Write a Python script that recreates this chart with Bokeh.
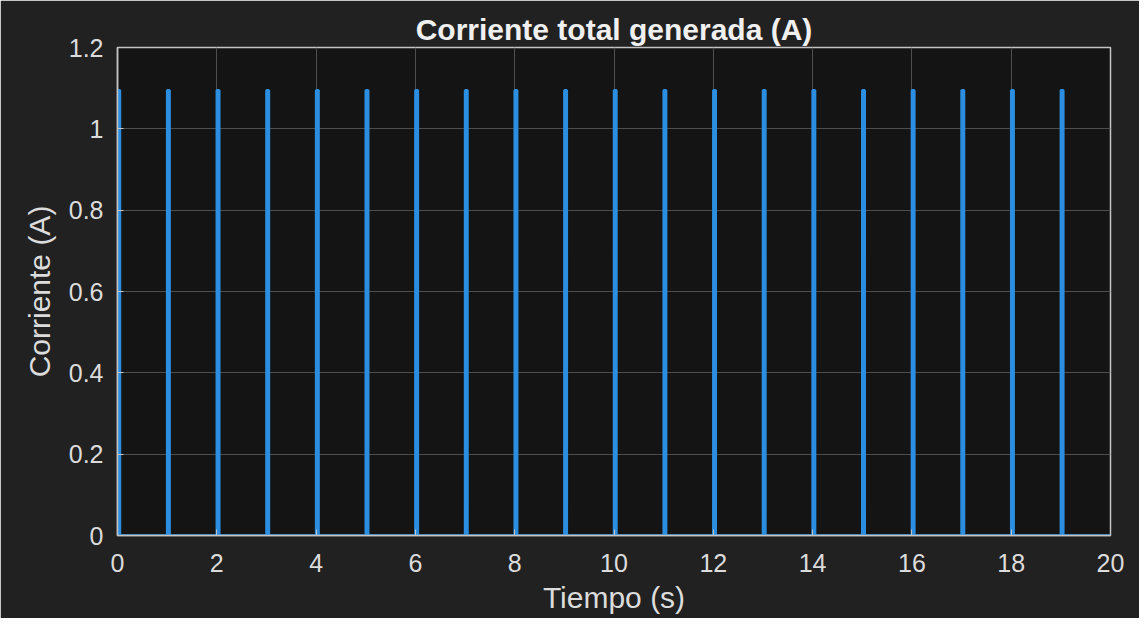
from bokeh.plotting import figure
from bokeh.models import Range1d, FixedTicker, CustomJSTickFormatter, ColumnDataSource
from bokeh.embed import file_html
from bokeh.resources import INLINE

# ---- data ----
pulse_times = [0, 1, 2, 3, 4, 5, 6, 7, 8, 9, 10, 11, 12, 13, 14, 15, 16, 17, 18, 19]
pulse_amps = [1.095, 1.095, 1.095, 1.095, 1.095, 1.095, 1.095, 1.095, 1.095, 1.095,
              1.095, 1.095, 1.095, 1.095, 1.095, 1.095, 1.095, 1.095, 1.095, 1.095]
pulse_width_s = 0.05
t_end = 20
x_ticks = [0, 2, 4, 6, 8, 10, 12, 14, 16, 18, 20]
y_ticks = [0, 0.2, 0.4, 0.6, 0.8, 1.0, 1.2]

xs, ys = [], []
for t, a in zip(pulse_times, pulse_amps):
    xs += [t, t, t + pulse_width_s, t + pulse_width_s]
    ys += [0, a, a, 0]
xs.append(t_end)
ys.append(0)

BG = "#212121"
PLOT_BG = "#141414"
AX = "#c4c4c4"
TXT = "#dcdcdc"
FONT = "Liberation Sans"

p = figure(width=1139, height=618, output_backend="svg", toolbar_location=None,
           x_range=Range1d(0, 20), y_range=Range1d(0, 1.2),
           min_border_left=117, min_border_right=29, min_border_top=47, min_border_bottom=83,
           background_fill_color=PLOT_BG, border_fill_color=BG)

p.title.text = "Corriente total generada (A)"
p.title.align = "center"
p.title.text_color = "#f0f0f0"
p.title.text_font = FONT
p.title.text_font_size = "30px"
p.title.text_font_style = "bold"
p.title.offset = 0
p.title.standoff = 4

src = ColumnDataSource(dict(x=xs, y=ys))
p.line("x", "y", source=src, line_color="#2b8ee0", line_width=2.5)

fmt = CustomJSTickFormatter(code="return tick.toFixed(1).replace(/\\.0$/, '');")

for ax in p.xaxis:
    ax.ticker = FixedTicker(ticks=x_ticks)
    ax.axis_label = "Tiempo (s)"
for ax in p.yaxis:
    ax.ticker = FixedTicker(ticks=y_ticks)
    ax.axis_label = "Corriente (A)"
    ax.formatter = fmt

for ax in list(p.xaxis) + list(p.yaxis):
    ax.axis_line_color = AX
    ax.axis_line_width = 1.5
    ax.major_tick_line_color = AX
    ax.major_tick_in = 6
    ax.major_tick_out = 0
    ax.minor_tick_line_color = None
    ax.major_label_text_color = TXT
    ax.major_label_text_font = FONT
    ax.major_label_text_font_size = "25px"
    ax.axis_label_text_color = TXT
    ax.axis_label_text_font = FONT
    ax.axis_label_text_font_size = "30px"
    ax.axis_label_text_font_style = "normal"

p.xaxis.major_label_standoff = 18
p.xaxis.axis_label_standoff = 6
p.yaxis.major_label_standoff = 14
p.yaxis.axis_label_standoff = 10

p.xgrid.grid_line_color = "#4e4e4e"
p.ygrid.grid_line_color = "#4e4e4e"
p.xgrid.ticker = FixedTicker(ticks=x_ticks)
p.ygrid.ticker = FixedTicker(ticks=y_ticks)
p.outline_line_color = AX
p.outline_line_width = 1.5

open("out.html", "w").write(file_html(p, INLINE))
